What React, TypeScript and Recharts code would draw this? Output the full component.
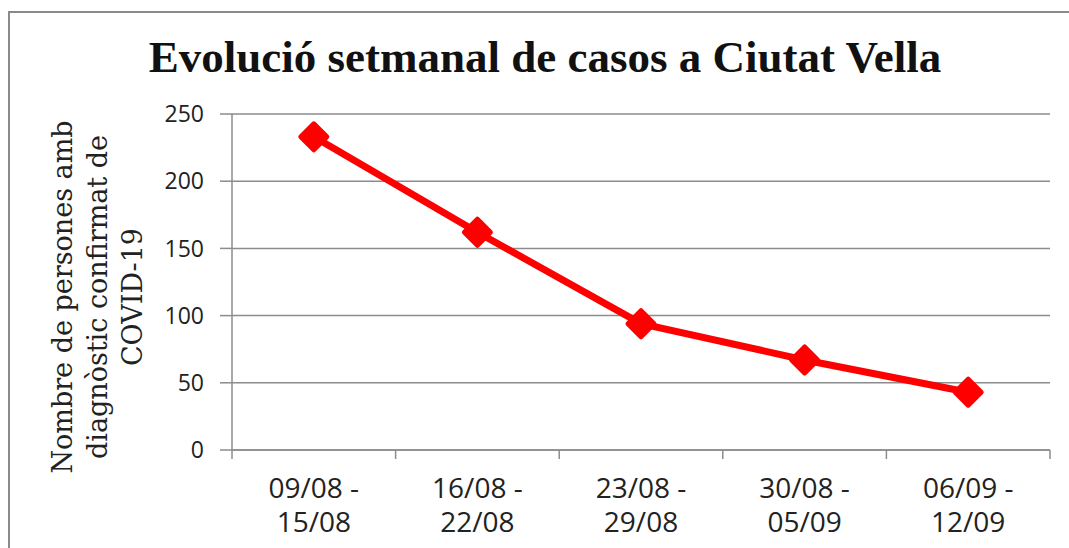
import { LineChart, Line, XAxis, YAxis, CartesianGrid } from "recharts";

// setmanes (inici - final) i casos confirmats
const weekStart = ["09/08", "16/08", "23/08", "30/08", "06/09"];
const weekEnd = ["15/08", "22/08", "29/08", "05/09", "12/09"];
const casos = [233, 162, 94, 67, 43];
const yTicks = [0, 50, 100, 150, 200, 250];
const yLabelLines = ["Nombre de persones amb", "diagnòstic confirmat de", "COVID-19"];

const data = weekStart.map((w, i) => ({ setmana: `${w} - ${weekEnd[i]}`, casos: casos[i] }));

const W = 1069;
const H = 548;
const M = { top: 114, right: 19, left: 0, bottom: 0 };
const Y_W = 232;
const X_H = 98;
const BAND = (W - M.right - Y_W) / data.length;
const GRID = "#8c8c8c";
const RED = "#ff0000";

const XTick = (props: any) => {
  const { x, y, index } = props;
  const left = x - BAND / 2;
  const right = x + BAND / 2;
  return (
    <g>
      <line x1={left} x2={left} y1={y} y2={y + 9} stroke={GRID} strokeWidth={1.5} />
      {index === data.length - 1 && (
        <line x1={right} x2={right} y1={y} y2={y + 9} stroke={GRID} strokeWidth={1.5} />
      )}
      <text x={x} y={y + 48} textAnchor="middle" fill="#222" fontSize={28} fontFamily="'Open Sans'">
        {weekStart[index]} -
      </text>
      <text x={x} y={y + 82} textAnchor="middle" fill="#222" fontSize={28} fontFamily="'Open Sans'">
        {weekEnd[index]}
      </text>
    </g>
  );
};

const Diamond = (props: any) => {
  const { cx, cy } = props;
  if (cx == null || cy == null) return null;
  const r = 13;
  return (
    <path
      d={`M${cx},${cy - r}L${cx + r},${cy}L${cx},${cy + r}L${cx - r},${cy}Z`}
      fill={RED}
      stroke={RED}
      strokeWidth={5}
      strokeLinejoin="round"
    />
  );
};

const YLabel = () => (
  <g fontFamily="'DejaVu Serif'" fontSize={27} fill="#222">
    {yLabelLines.map((t, i) => (
      <text
        key={i}
        x={0}
        y={0}
        textAnchor="middle"
        transform={`translate(${72 + i * 35}, 297) rotate(-90)`}
      >
        {t}
      </text>
    ))}
  </g>
);

export default function App() {
  return (
    <div style={{ position: "absolute", left: 0, top: 0, width: W, height: H, overflow: "hidden", background: "#fff" }}>
      <div
        style={{
          position: "absolute",
          left: 8,
          top: 11,
          width: 1200,
          height: 700,
          border: "2px solid #8a8a8a",
        }}
      />
      <svg style={{ position: "absolute", left: 0, top: 0 }} width={W} height={100}>
        <text x={545} y={72} textAnchor="middle" fontFamily="'Liberation Serif'" fontWeight="bold" fontSize={45} fill="#111">
          Evolució setmanal de casos a Ciutat Vella
        </text>
      </svg>
      <div style={{ position: "absolute", left: 0, top: 0 }}>
        <LineChart width={W} height={H} data={data} margin={M}>
          <CartesianGrid vertical={false} stroke={GRID} strokeWidth={1.5} />
          <XAxis
            dataKey="setmana"
            height={X_H}
            interval={0}
            padding={{ left: BAND / 2, right: BAND / 2 }}
            tickLine={false}
            tickSize={0}
            tickMargin={0}
            stroke={GRID}
            strokeWidth={1.5}
            tick={<XTick />}
          />
          <YAxis
            width={Y_W}
            domain={[0, 250]}
            ticks={yTicks}
            interval={0}
            tickSize={12}
            tickMargin={16}
            stroke={GRID}
            strokeWidth={1.5}
            tick={{ fill: "#222", fontSize: 23, fontFamily: "'Open Sans'" }}
            label={{ content: <YLabel /> }}
          />
          <Line
            dataKey="casos"
            stroke={RED}
            strokeWidth={7}
            dot={<Diamond />}
            activeDot={false}
            isAnimationActive={false}
          />
        </LineChart>
      </div>
    </div>
  );
}
